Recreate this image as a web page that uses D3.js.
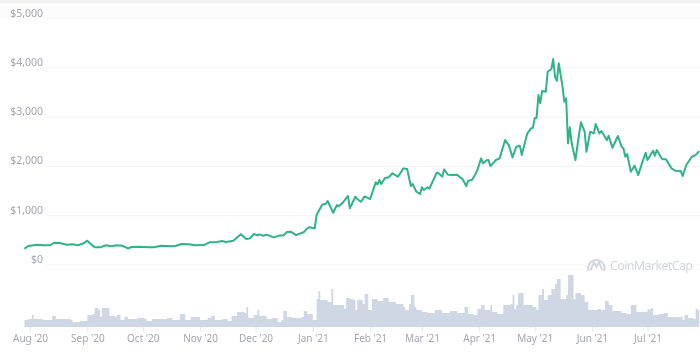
<!DOCTYPE html>
<html><head><meta charset="utf-8">
<script src="https://cdn.jsdelivr.net/npm/d3@7"></script>
<style>
html,body{margin:0;padding:0;background:#fff}
svg{display:block;filter:blur(0.4px)}
text{font-family:"Noto Sans",sans-serif}
</style></head><body><svg id="c" width="700" height="353"></svg>
<script>
// days counted from 1 Aug 2020
const priceDays=[-3,-1,4,7,11,13,16,20,23,26,29,31,33,35,38,41,44,47,50,53,55,59,64,67,71,77,79,82,86,89,94,97,101,104,106,110,114,117,119,121,123,124,126,128,131,132,135,137,139,141,144,148,150,151,154,155,158,160,161,164,166,167,169,172,173,176,177,179,181,184,187,188,189,190,192,194,196,199,202,204,206,207,209,211,212,213,215,216,220,221,222,223,224,226,229,231,234,236,237,239,241,242,244,245,247,248,249,251,252,254,257,259,261,263,265,266,269,271,272,273,274,275,276,277,279,280,282,283,284,285,286,288,289,290,291,292,293,295,297,298,300,301,303,305,306,308,309,312,313,315,318,320,321,322,323,325,327,329,331,333,334,337,338,339,342,344,347,349,352,353,355,358,360,362];
const priceValues=[320,375,400,390,390,442,436,400,410,390,430,483,410,348,348,390,370,390,380,328,355,360,350,350,382,370,380,415,410,390,395,450,455,476,456,483,612,517,530,618,590,612,585,605,563,550,590,590,660,665,598,653,734,754,734,1004,1212,1233,1288,1050,1206,1180,1247,1390,1140,1375,1328,1274,1383,1328,1667,1626,1714,1633,1754,1768,1850,1781,1950,1937,1592,1633,1476,1430,1566,1511,1566,1537,1862,1850,1815,1781,1930,1821,1815,1821,1728,1592,1700,1714,1835,1916,2153,2052,2113,2119,1997,2078,2119,2153,2524,2423,2173,2389,2409,2220,2660,2762,2775,2965,2977,3437,3269,3518,3504,3910,3965,4167,3808,3727,4080,3620,3302,3370,2458,2782,2458,2119,2647,2884,2693,2288,2693,2660,2849,2660,2707,2524,2612,2369,2606,2389,2356,2186,2241,1882,2004,1815,2052,2267,2119,2308,2206,2322,2133,2133,1950,1902,1896,1795,2018,2186,2220,2300];
const volumeDays=[-3,-1,1,2,7,11,12,14,22,23,27,29,31,34,35,37,38,39,42,43,46,47,49,51,53,58,62,63,66,74,77,81,84,87,92,96,98,100,104,107,109,112,116,117,118,121,123,124,128,131,134,136,137,139,142,147,148,150,153,155,156,157,160,161,163,164,168,170,171,173,175,176,177,180,181,182,183,185,188,191,194,198,202,203,205,206,207,208,209,212,215,219,223,227,231,234,235,237,240,242,244,246,249,250,253,256,260,261,262,263,264,266,267,272,274,275,277,278,280,282,284,285,286,287,290,291,293,294,295,298,300,302,307,309,311,313,315,319,320,323,325,327,328,332,334,336,337,340,343,345,349,353,354,356,359,360,361,362];
const volumeValues=[7,8,12,8,7,7,11,8,7,5,6,6,12,13,19,17,10,19,19,11,10,12,7,10,8,9,8,6,8,9,7,13,7,10,7,9,11,7,8,6,11,15,14,20,9,12,17,11,8,9,5,7,16,10,9,10,16,13,7,28,36,27,27,25,38,22,22,18,29,28,27,17,27,23,33,33,17,28,26,29,25,23,20,17,23,32,32,20,17,15,14,17,14,16,14,14,20,13,12,18,22,17,22,15,13,22,23,32,18,22,34,34,22,20,17,32,38,27,32,38,43,48,48,28,32,52,52,28,34,32,25,17,18,17,26,22,16,16,14,13,22,22,15,15,18,19,12,13,14,10,10,7,12,9,8,18,17,7];
const priceTicks=[0,1000,2000,3000,4000,5000];
const monthTicks=["2020-08-01","2020-09-01","2020-10-01","2020-11-01","2020-12-01","2021-01-01","2021-02-01","2021-03-01","2021-04-01","2021-05-01","2021-06-01","2021-07-01"];
const watermark="CoinMarketCap";

const day0=new Date(2020,7,1);
const dayToDate=d=>d3.timeDay.offset(day0,d);
const monthDates=monthTicks.map(s=>d3.timeParse("%Y-%m-%d")(s));

const x=d3.scaleTime().domain([day0,monthDates[monthDates.length-1]]).range([30,647.5]);
const y=d3.scaleLinear().domain([0,5000]).range([264.5,18]);
const yVol=d3.scaleLinear().domain([0,60]).range([327,267]);

const svg=d3.select("#c");
svg.append("rect").attr("width",700).attr("height",3).attr("fill","#f1f1f2");
svg.append("rect").attr("y",3).attr("width",700).attr("height",15).attr("fill","#fcfcfc");

// y axis with grid
const gy=svg.append("g").attr("transform","translate(46,0)")
  .call(d3.axisLeft(y).tickValues(priceTicks).tickSize(0).tickPadding(3).tickFormat(d=>"$"+d3.format(",")(d)));
gy.select(".domain").remove();
gy.selectAll("text").attr("font-size",10.5).attr("fill","#a2a6ae").attr("dy",-2).attr("font-family",'"Noto Sans",sans-serif');
gy.selectAll("line").attr("x1",0).attr("x2",654).attr("stroke","#f3f4f6");

// volume
svg.append("path")
  .attr("d",d3.area().x(i=>x(dayToDate(volumeDays[i]))).y0(yVol(0)).y1(i=>yVol(volumeValues[i])).curve(d3.curveStepAfter)(d3.range(volumeDays.length)))
  .attr("fill","#d0d7e4");

// x axis
const gx=svg.append("g").attr("transform","translate(0,327)")
  .call(d3.axisBottom(x).tickValues(monthDates).tickSize(5).tickPadding(3).tickFormat(d3.timeFormat("%b '%y")));
gx.select(".domain").remove();
gx.selectAll("line").attr("stroke","#e4e7ec");
gx.selectAll("text").attr("font-size",10).attr("fill","#a2a6ae").attr("font-family",'"Noto Sans",sans-serif');

// price line
svg.append("path")
  .attr("d",d3.line().x(i=>x(dayToDate(priceDays[i]))).y(i=>y(priceValues[i]))(d3.range(priceDays.length)))
  .attr("fill","none").attr("stroke","#2fb486").attr("stroke-width",2).attr("stroke-linejoin","round");

// watermark
const wm=svg.append("g").attr("fill","none").attr("stroke","#d3d7dd").attr("stroke-width",2);
wm.append("path").attr("d","M588.5 271 A8.3 8.3 0 1 1 604.2 271");
wm.append("path").attr("d","M590.5 270 L594 262 L596.5 267 L599 262 L602 270");
svg.append("text").attr("x",610).attr("y",270).attr("font-size",12.5).attr("textLength",83).attr("fill","#d3d7dd").text(watermark);
</script></body></html>
